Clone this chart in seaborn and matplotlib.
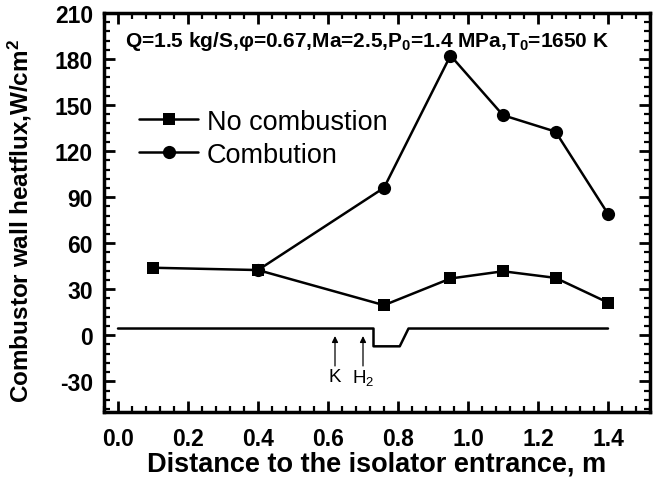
import matplotlib
matplotlib.use("Agg")
import matplotlib.pyplot as plt
import seaborn as sns
import pandas as pd
from matplotlib.ticker import MultipleLocator

# ---- data ----
x_nocomb = [0.10, 0.40, 0.76, 0.95, 1.10, 1.25, 1.40]
y_nocomb = [44.0, 42.5, 19.6, 37.0, 41.7, 37.4, 21.3]
x_comb = [0.40, 0.76, 0.95, 1.10, 1.25, 1.40]
y_comb = [42.5, 96.1, 182.3, 143.4, 132.7, 79.1]
# combustor wall geometry sketch
x_geom = [0.0, 0.73, 0.73, 0.805, 0.83, 1.40]
y_geom = [4.4, 4.4, -7.2, -7.2, 4.4, 4.4]
arrow_x = [0.62, 0.70]
arrow_labels = ["K", "H$_2$"]
x_ticks = [0.0, 0.2, 0.4, 0.6, 0.8, 1.0, 1.2, 1.4]
x_ticklabels = ["0.0", "0.2", "0.4", "0.6", "0.8", "1.0", "1.2", "1.4"]
y_ticks = [-30, 0, 30, 60, 90, 120, 150, 180, 210]

sns.set_theme(style="ticks")
plt.rcParams["font.family"] = ["Liberation Sans", "DejaVu Sans"]
plt.rcParams["mathtext.fontset"] = "custom"
plt.rcParams["mathtext.rm"] = "Liberation Sans"
plt.rcParams["mathtext.bf"] = "Liberation Sans:bold"
plt.rcParams["mathtext.default"] = "regular"
plt.rcParams["text.color"] = "black"
plt.rcParams["axes.labelcolor"] = "black"
plt.rcParams["xtick.color"] = "black"
plt.rcParams["ytick.color"] = "black"
plt.rcParams["axes.unicode_minus"] = False

fig = plt.figure(figsize=(6.57, 4.81), dpi=100)
ax = fig.add_axes([104/657, 1-413/481, 546/657, (413-14)/481])

df_c = pd.DataFrame({"x": x_comb, "y": y_comb})
df_n = pd.DataFrame({"x": x_nocomb, "y": y_nocomb})
df_g = pd.DataFrame({"x": x_geom, "y": y_geom})

sns.lineplot(data=df_g, x="x", y="y", ax=ax, color="black", lw=1.8,
             estimator=None, sort=False, legend=False)
sns.lineplot(data=df_c, x="x", y="y", ax=ax, color="black", lw=1.8,
             marker="o", markersize=9.5, markeredgewidth=0,
             estimator=None, sort=False, label="Combution")
sns.lineplot(data=df_n, x="x", y="y", ax=ax, color="black", lw=1.8,
             marker="s", markersize=8.5, markeredgewidth=0,
             estimator=None, sort=False, label="No combustion")

for xa, lab in zip(arrow_x, arrow_labels):
    ax.annotate("", xy=(xa, -0.5), xytext=(xa, -20),
                arrowprops=dict(arrowstyle="-|>", color="black", lw=0.9,
                                mutation_scale=9, shrinkA=0, shrinkB=0))
    ax.text(xa, -27, lab, ha="center", va="center", fontsize=13.5)

ax.set_xlim(-0.04, 1.52)
ax.set_ylim(-50, 210)
ax.set_xticks(x_ticks)
ax.set_xticklabels(x_ticklabels)
ax.xaxis.set_minor_locator(MultipleLocator(0.04))
ax.set_yticks(y_ticks)
ax.yaxis.set_minor_locator(MultipleLocator(6))
ax.tick_params(which="both", direction="in", top=True, right=True, color="black")
ax.tick_params(which="major", length=8, width=2)
ax.tick_params(which="minor", length=4.5, width=1.6)
ax.tick_params(axis="x", labelsize=16.5, pad=11)
ax.tick_params(axis="y", labelsize=16.5, pad=8)
for lab in ax.get_xticklabels() + ax.get_yticklabels():
    lab.set_fontweight("bold")
for s in ax.spines.values():
    s.set_linewidth(2.5)
    s.set_color("black")

ax.set_xlabel("Distance to the isolator entrance, m", fontsize=19.5,
              fontweight="bold")
ax.xaxis.set_label_coords(0.5, -0.097)
ax.set_ylabel("Combustor wall heatflux,W/cm$^2$", fontsize=17.5,
              fontweight="bold")
ax.yaxis.set_label_coords(-0.128, 0.48)

ax.text(0.038, 0.93, "Q=1.5 kg/S,\u03c6=0.67,Ma=2.5,P$_0$=1.4 MPa,T$_0$=1650 K",
        transform=ax.transAxes, fontsize=15, fontweight="bold",
        ha="left", va="center")

h, l = ax.get_legend_handles_labels()
ax.legend([h[1], h[0]], [l[1], l[0]], loc="upper left",
          bbox_to_anchor=(0.044, 0.787), frameon=False, fontsize=19.5,
          handlelength=2.2, handletextpad=0.3, labelspacing=0.25,
          borderaxespad=0)

fig.savefig("out.png", dpi=100)
